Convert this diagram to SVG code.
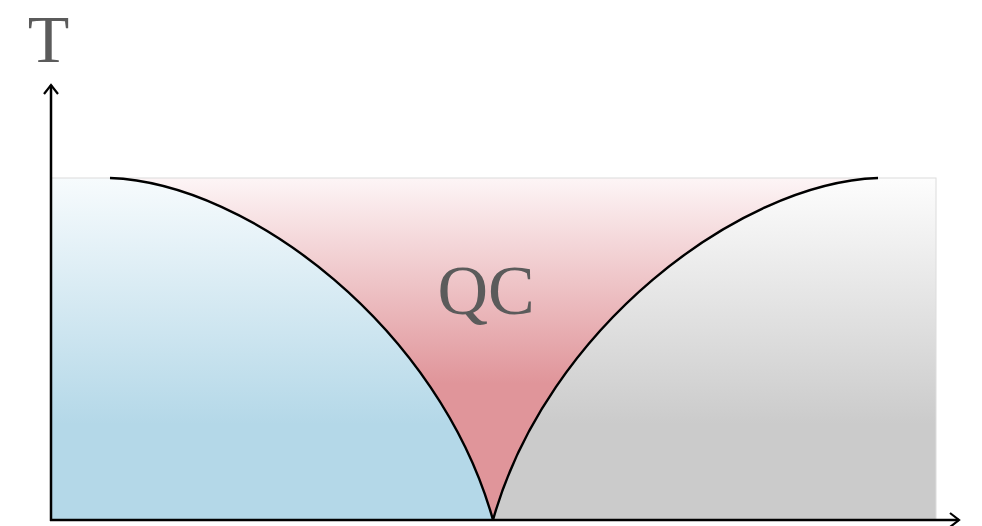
<svg xmlns="http://www.w3.org/2000/svg" width="982" height="526" viewBox="0 0 982 526">
<defs>
<linearGradient id="gBlue" x1="0" y1="178" x2="0" y2="520" gradientUnits="userSpaceOnUse">
<stop offset="0" stop-color="#f7fbfd"/><stop offset="0.72" stop-color="#b4d8e8"/><stop offset="1" stop-color="#b4d8e8"/>
</linearGradient>
<linearGradient id="gRed" x1="0" y1="178" x2="0" y2="520" gradientUnits="userSpaceOnUse">
<stop offset="0" stop-color="#fdf5f6"/><stop offset="0.6" stop-color="#e0959a"/><stop offset="1" stop-color="#e0959a"/>
</linearGradient>
<linearGradient id="gGray" x1="0" y1="178" x2="0" y2="520" gradientUnits="userSpaceOnUse">
<stop offset="0" stop-color="#fdfdfd"/><stop offset="0.72" stop-color="#cbcbcb"/><stop offset="1" stop-color="#cbcbcb"/>
</linearGradient>
<marker id="arr" markerWidth="12" markerHeight="16" refX="10" refY="8" orient="auto" markerUnits="userSpaceOnUse">
<path d="M1,1 L10,8 L1,15" fill="none" stroke="#000" stroke-width="2.2"/>
</marker>
<style>
.lbl{font-family:"Liberation Serif","DejaVu Serif",serif;fill:#5b5b5b;}
.curve{fill:none;stroke:#000;stroke-width:2.4;}
.axis{stroke:#000;stroke-width:2.5;fill:none;}
</style>
</defs>
<g id="regions">
<path d="M51,178 L110,178 C250,183 440,330 493,520 L51,520 Z" fill="url(#gBlue)"/>
<path d="M110,178 C250,183 440,330 493,520 C546,330 738,183 878,178 Z" fill="url(#gRed)"/>
<path d="M878,178 L936,178 L936,520 L493,520 C546,330 738,183 878,178 Z" fill="url(#gGray)"/>
<rect x="51" y="178" width="885" height="342" fill="none" stroke="#dcdcdc" stroke-width="1"/>
</g>
<g id="connectors">
<path class="curve" d="M110,178 C250,183 440,330 493,520"/>
<path class="curve" d="M878,178 C738,183 546,330 493,520"/>
<line class="axis" x1="51" y1="521" x2="51" y2="85" marker-end="url(#arr)"/>
<line class="axis" x1="50" y1="520" x2="959" y2="520" marker-end="url(#arr)"/>
</g>
<g id="label-T"><text class="lbl" x="48.5" y="62" font-size="68" text-anchor="middle">T</text></g>
<g id="label-QC"><text class="lbl" x="486" y="314" font-size="70" text-anchor="middle">QC</text></g>
</svg>
